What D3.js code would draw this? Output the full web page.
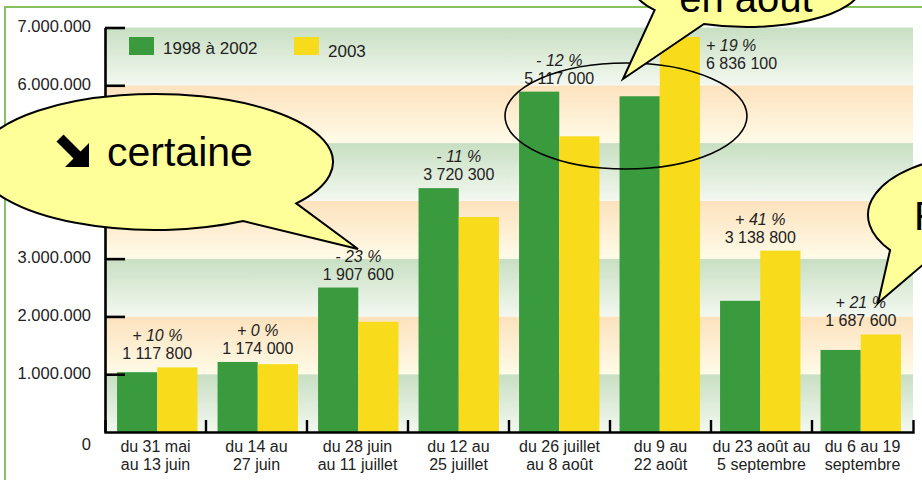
<!DOCTYPE html>
<html><head><meta charset="utf-8">
<script src="https://cdn.jsdelivr.net/npm/d3@7"></script>
<style>body{margin:0;background:#fff}svg{display:block}</style>
</head><body>
<svg id="c" width="922" height="480"></svg>
<script>
const categories = [
  ["du 31 mai","au 13 juin"],["du 14  au","27 juin"],["du 28 juin","au 11 juillet"],["du 12 au","25 juillet"],
  ["du 26 juillet","au 8 août"],["du 9 au","22 août"],["du 23 août au","5 septembre"],["du 6 au 19","septembre"]];
const seriesNames = ["1998 à 2002","2003"];
const values9802 = [1035000,1212000,2500000,4220000,5890000,5810000,2270000,1420000];
const values2003 = [1117800,1174000,1907600,3720300,5117000,6836100,3138800,1687600];
const changes = ["+ 10 %","+ 0 %","- 23 %","- 11 %","- 12 %","+ 19 %","+ 41 %","+ 21 %"];
const yTicks = [0,1000000,2000000,3000000,4000000,5000000,6000000,7000000];
const colors = ["#3a9b3e","#f8dc1c"];

const svg = d3.select("#c");
const narrow = "'Liberation Sans Narrow','Arial Narrow',sans-serif";
const arial = "'Liberation Sans',Arial,sans-serif";

const x = d3.scaleBand().domain(d3.range(categories.length)).range([105,913]).paddingInner(0.2).paddingOuter(0.12);
const x1 = d3.scaleBand().domain([0,1]).range([0,x.bandwidth()]);
const y = d3.scaleLinear().domain([0,7000000]).range([432,27.5]);

// frame
svg.append("rect").attr("x",5).attr("y",7).attr("width",1000).attr("height",1000)
  .attr("fill","#fff").attr("stroke","#86c35f").attr("stroke-width",2);

// gradients
const defs = svg.append("defs");
const gG = defs.append("linearGradient").attr("id","gg").attr("x1",0).attr("y1",0).attr("x2",0).attr("y2",1);
gG.append("stop").attr("offset",0).attr("stop-color","#c8dfc2");
gG.append("stop").attr("offset",1).attr("stop-color","#f3f8f0");
const gO = defs.append("linearGradient").attr("id","go").attr("x1",0).attr("y1",0).attr("x2",0).attr("y2",1);
gO.append("stop").attr("offset",0).attr("stop-color","#fce2bd");
gO.append("stop").attr("offset",1).attr("stop-color","#fffbe8");

svg.append("g").selectAll("rect").data(yTicks.slice(0,-1)).join("rect")
  .attr("x",105).attr("width",808)
  .attr("y",(d,i)=>y(yTicks[i+1])).attr("height",(d,i)=>y(d)-y(yTicks[i+1]))
  .attr("fill",(d,i)=> i%2===0 ? "url(#gg)" : "url(#go)");

// bars
const grp = svg.append("g").selectAll("g").data(categories).join("g")
  .attr("transform",(d,i)=>`translate(${x(i)},0)`);
grp.selectAll("rect").data((d,i)=>[values9802[i],values2003[i]]).join("rect")
  .attr("x",(d,j)=>x1(j)).attr("width",x1.bandwidth())
  .attr("y",d=>y(d)).attr("height",d=>y(0)-y(d))
  .attr("fill",(d,j)=>colors[j]);

// y axis
const fmtY = d3.formatLocale({decimal:",",thousands:".",grouping:[3],currency:["",""]}).format(",");
const ya = svg.append("g").attr("transform","translate(105,0)")
  .call(d3.axisLeft(y).tickValues(yTicks).tickSize(-20).tickSizeOuter(0).tickPadding(14).tickFormat(fmtY));
ya.select(".domain").attr("stroke","#000").attr("stroke-width",2.6);
ya.selectAll(".tick line").attr("stroke","#000").attr("stroke-width",2.6);
ya.selectAll(".tick text").attr("font-family",arial).attr("font-size",16.5).attr("fill","#222")
  .attr("dy",d=> d===0 ? "1.05em" : "0.25em");
ya.selectAll(".tick").filter(d=>d===0).select("line").remove();

// x axis
const xa = svg.append("g").attr("transform","translate(0,432)")
  .call(d3.axisBottom(x).tickSize(0).tickSizeOuter(-12).tickFormat(""));
xa.select(".domain").attr("stroke","#000").attr("stroke-width",2.4).attr("fill","none");
xa.selectAll(".tick text").remove();
// boundary ticks
svg.append("g").selectAll("line").data(d3.range(1,categories.length)).join("line")
  .attr("x1",i=>105+i*(808/categories.length)).attr("x2",i=>105+i*(808/categories.length))
  .attr("y1",432).attr("y2",420).attr("stroke","#000").attr("stroke-width",2.4);
// category labels
const cl = svg.append("g").selectAll("text").data(categories).join("text")
  .attr("font-family",narrow).attr("font-size",16).attr("fill","#222").attr("text-anchor","middle")
  .attr("transform",(d,i)=>`translate(${105+(i+0.5)*(808/categories.length)},0)`);
cl.selectAll("tspan").data(d=>d).join("tspan").attr("x",0).attr("y",(d,k)=>452+k*18).text(d=>d);

// value labels
const fmtV = d3.formatLocale({decimal:",",thousands:" ",grouping:[3],currency:["",""]}).format(",");
const vl = svg.append("g").selectAll("text").data(values2003).join("text")
  .attr("font-family",narrow).attr("font-size",16).attr("fill","#222")
  .attr("text-anchor",(d,i)=> i===5 ? "start" : "middle")
  .attr("transform",(d,i)=>{
    const top = y(Math.max(values2003[i],values9802[i]));
    if (i===5) return `translate(${x(i)+x.bandwidth()+6},${top+14})`;
    return `translate(${x(i)+x.bandwidth()/2},${top-26})`;
  });
vl.append("tspan").attr("x",0).attr("y",0).attr("font-style","italic").text((d,i)=>changes[i]);
vl.append("tspan").attr("x",0).attr("y",18).text(d=>fmtV(d));

// legend
const lg = svg.append("g");
const legX = [129,294];
seriesNames.forEach((s,j)=>{
  lg.append("rect").attr("x",legX[j]).attr("y",37).attr("width",25).attr("height",18).attr("fill",colors[j]);
  lg.append("text").attr("x",legX[j]+34).attr("y",j===0?54:57).attr("font-family",arial).attr("font-size",17)
    .attr("fill","#222").text(s);
});

// ellipse highlight
svg.append("ellipse").attr("cx",626).attr("cy",116).attr("rx",121).attr("ry",53)
  .attr("fill","none").attr("stroke","#000").attr("stroke-width",1.6);

// callouts
function callout(cx,cy,rx,ry,tA,tB,tip){
  const P = t => [cx+rx*Math.cos(t*Math.PI/180), cy+ry*Math.sin(t*Math.PI/180)];
  const a = P(tA), b = P(tB);
  const p = `M${b[0]},${b[1]} A${rx},${ry} 0 1 1 ${a[0]},${a[1]} L${tip[0]},${tip[1]} Z`;
  svg.append("path").attr("d",p).attr("fill","#ffff99").attr("stroke","#000").attr("stroke-width",2).attr("stroke-linejoin","miter");
}
callout(155,162,178,68,37.5,60.3,[358,249]);
callout(747,-15,115,42,112,143.4,[623,79]);
callout(985,215,117,60,122.6,144.2,[878,303]);

// heavy south-east arrow symbol
svg.append("path")
  .attr("d","M63.5,134.5 L80.5,151.5 L89,143 L89,167 L65,167 L73.5,158.5 L56.5,141.5 Z")
  .attr("fill","#000");
svg.append("text").attr("x",107).attr("y",166).attr("font-family",arial).attr("font-size",41).attr("fill","#000").text("certaine");
svg.append("text").attr("x",746).attr("y",12).attr("text-anchor","middle").attr("font-family",arial).attr("font-size",40).attr("fill","#000").text("en août");
svg.append("text").attr("x",914).attr("y",230).attr("font-family",arial).attr("font-size",40).attr("fill","#000").text("Reprise");
</script>
</body></html>
